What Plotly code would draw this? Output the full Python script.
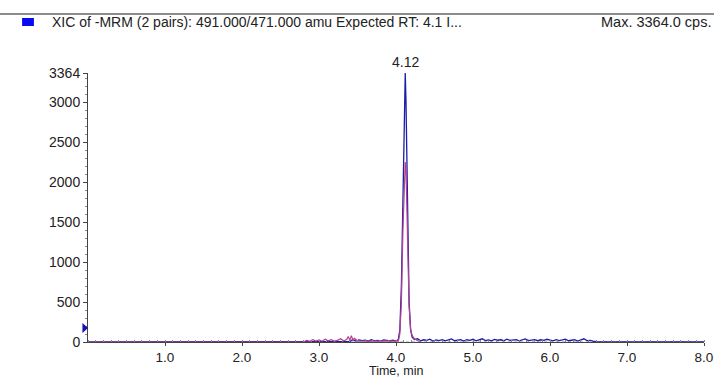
import plotly.graph_objects as go

# ---- data ----
blue_time = [0.00, 1.00, 2.00, 3.00, 3.40, 3.44, 3.48, 3.52, 3.56, 3.60, 3.64, 3.68, 3.72, 3.76,
             3.80, 3.84, 3.88, 3.92, 3.96, 4.00, 4.03, 4.05, 4.07, 4.09, 4.10, 4.11, 4.12,
             4.13, 4.14, 4.15, 4.17, 4.19, 4.21, 4.24, 4.28, 4.32, 4.36, 4.40, 4.44, 4.48,
             4.52, 4.56, 4.60, 4.64, 4.68, 4.72, 4.76, 4.80, 4.84, 4.88, 4.92, 4.96, 5.00,
             5.04, 5.08, 5.12, 5.16, 5.20, 5.24, 5.28, 5.32, 5.36, 5.40, 5.44, 5.48, 5.52,
             5.56, 5.60, 5.64, 5.68, 5.72, 5.76, 5.80, 5.84, 5.88, 5.92, 5.96, 6.00, 6.04,
             6.08, 6.12, 6.16, 6.20, 6.24, 6.28, 6.32, 6.36, 6.40, 6.44, 6.48, 6.52, 6.56,
             6.60, 7.00, 8.00]
blue_cps = [0, 0, 0, 0, 5, 30, 12, 25, 18, 22, 10, 28, 15, 20, 12, 26, 18, 14, 22, 12,
            30, 150, 700, 1900, 2700, 3200, 3364, 3000, 2200, 1400, 500, 150, 60, 30, 40,
            15, 28, 20, 35, 12, 26, 18, 30, 14, 24, 38, 16, 22, 30, 12, 28, 20, 34, 15,
            25, 40, 18, 26, 14, 32, 22, 28, 16, 36, 20, 24, 30, 14, 26, 38, 18, 22, 30, 16,
            28, 20, 34, 24, 14, 30, 18, 26, 36, 16, 22, 28, 12, 24, 40, 18, 20, 10, 5, 0, 0]

pink_time = [0.00, 2.80, 2.84, 2.88, 2.92, 2.96, 3.00, 3.04, 3.08, 3.12, 3.16, 3.20, 3.24,
             3.28, 3.32, 3.36, 3.38, 3.40, 3.42, 3.44, 3.46, 3.50, 3.60, 3.80, 4.00, 4.03,
             4.05, 4.07, 4.09, 4.11, 4.12, 4.13, 4.15, 4.17, 4.19, 4.21, 4.24, 4.28, 4.32]
pink_cps = [0, 0, 20, 8, 30, 12, 25, 10, 35, 15, 28, 10, 20, 40, 15, 30, 70, 20, 80, 25,
            45, 15, 10, 12, 10, 12, 100, 500, 1400, 2100, 2250, 2150, 1200, 450, 150, 80,
            40, 15, 5]

baseline_time = [0.0, 8.0]
baseline_cps = [0, 0]

x_ticks = [1, 2, 3, 4, 5, 6, 7, 8]
x_tick_labels = ["1.0", "2.0", "3.0", "4.0", "5.0", "6.0", "7.0", "8.0"]
y_ticks = [0, 500, 1000, 1500, 2000, 2500, 3000, 3364]
y_tick_labels = ["0", "500", "1000", "1500", "2000", "2500", "3000", "3364"]

peak_rt = 4.12
max_cps = 3364

FONT = "Liberation Sans, Arial, sans-serif"

fig = go.Figure()
fig.add_trace(go.Scatter(x=baseline_time, y=baseline_cps, mode="lines",
                         line=dict(color="#9a9a9a", width=1, dash="dot"),
                         hoverinfo="skip", showlegend=False))
fig.add_trace(go.Scatter(x=blue_time, y=blue_cps, mode="lines",
                         line=dict(color="#1c1ca8", width=1.3), showlegend=False))
fig.add_trace(go.Scatter(x=pink_time, y=pink_cps, mode="lines",
                         line=dict(color="#b8408e", width=1.2), showlegend=False))

# threshold marker on the y axis
fig.add_shape(type="path", xref="paper", yref="paper",
              path="M -0.0090,0.071 L 0,0.052 L -0.0090,0.033 Z",
              fillcolor="#1414b4", line=dict(width=0))

fig.add_annotation(x=peak_rt, y=max_cps, text="4.12", showarrow=False,
                   yanchor="bottom", yshift=1, font=dict(size=14, color="#222"))

# x axis title
fig.add_annotation(xref="paper", yref="paper", x=0.5, y=-0.108, xanchor="center",
                   yanchor="middle", showarrow=False, text="Time, min",
                   font=dict(size=12.5, color="#222"))

# header
fig.add_shape(type="line", xref="paper", yref="paper", x0=-0.15, x1=1.03,
              y0=1.2193, y1=1.2193, line=dict(color="#8c8c8c", width=2))
fig.add_shape(type="rect", xref="paper", yref="paper", x0=-0.107, x1=-0.0878,
              y0=1.1747, y1=1.2045, fillcolor="#0a0af0", line=dict(width=0))
fig.add_annotation(xref="paper", yref="paper", x=-0.062, y=1.1896, xanchor="left",
                   yanchor="middle", showarrow=False,
                   text="XIC of -MRM (2 pairs): 491.000/471.000 amu Expected RT: 4.1 I...",
                   font=dict(size=14, color="#222"))
fig.add_annotation(xref="paper", yref="paper", x=1.0146, y=1.1896, xanchor="right",
                   yanchor="middle", showarrow=False, text="Max. 3364.0 cps.",
                   font=dict(size=14.5, color="#222"))

fig.update_layout(
    width=714, height=378,
    margin=dict(l=88, r=10, t=73, b=36),
    paper_bgcolor="white", plot_bgcolor="white",
    font=dict(family=FONT, size=14, color="#222"),
    xaxis=dict(range=[0, 8], tickvals=x_ticks, ticktext=x_tick_labels,
               automargin=False, tickfont=dict(size=13.5),
               showgrid=False, zeroline=False, showline=True, linecolor="#444",
               linewidth=1, ticks="outside", ticklen=3, tickcolor="#444",
               minor=dict(dtick=0.1, ticks="inside", ticklen=2, tickcolor="#888")),
    yaxis=dict(range=[0, max_cps], tickvals=y_ticks, ticktext=y_tick_labels,
               automargin=False,
               showgrid=False, zeroline=False, showline=True, linecolor="#444",
               linewidth=1, ticks="outside", ticklen=4, tickcolor="#444",
               minor=dict(dtick=100, ticks="outside", ticklen=2, tickcolor="#888")),
)

fig.write_html("out.html", config={"displayModeBar": False},
               post_script="document.body.style.margin='0';document.body.style.overflow='hidden';")
